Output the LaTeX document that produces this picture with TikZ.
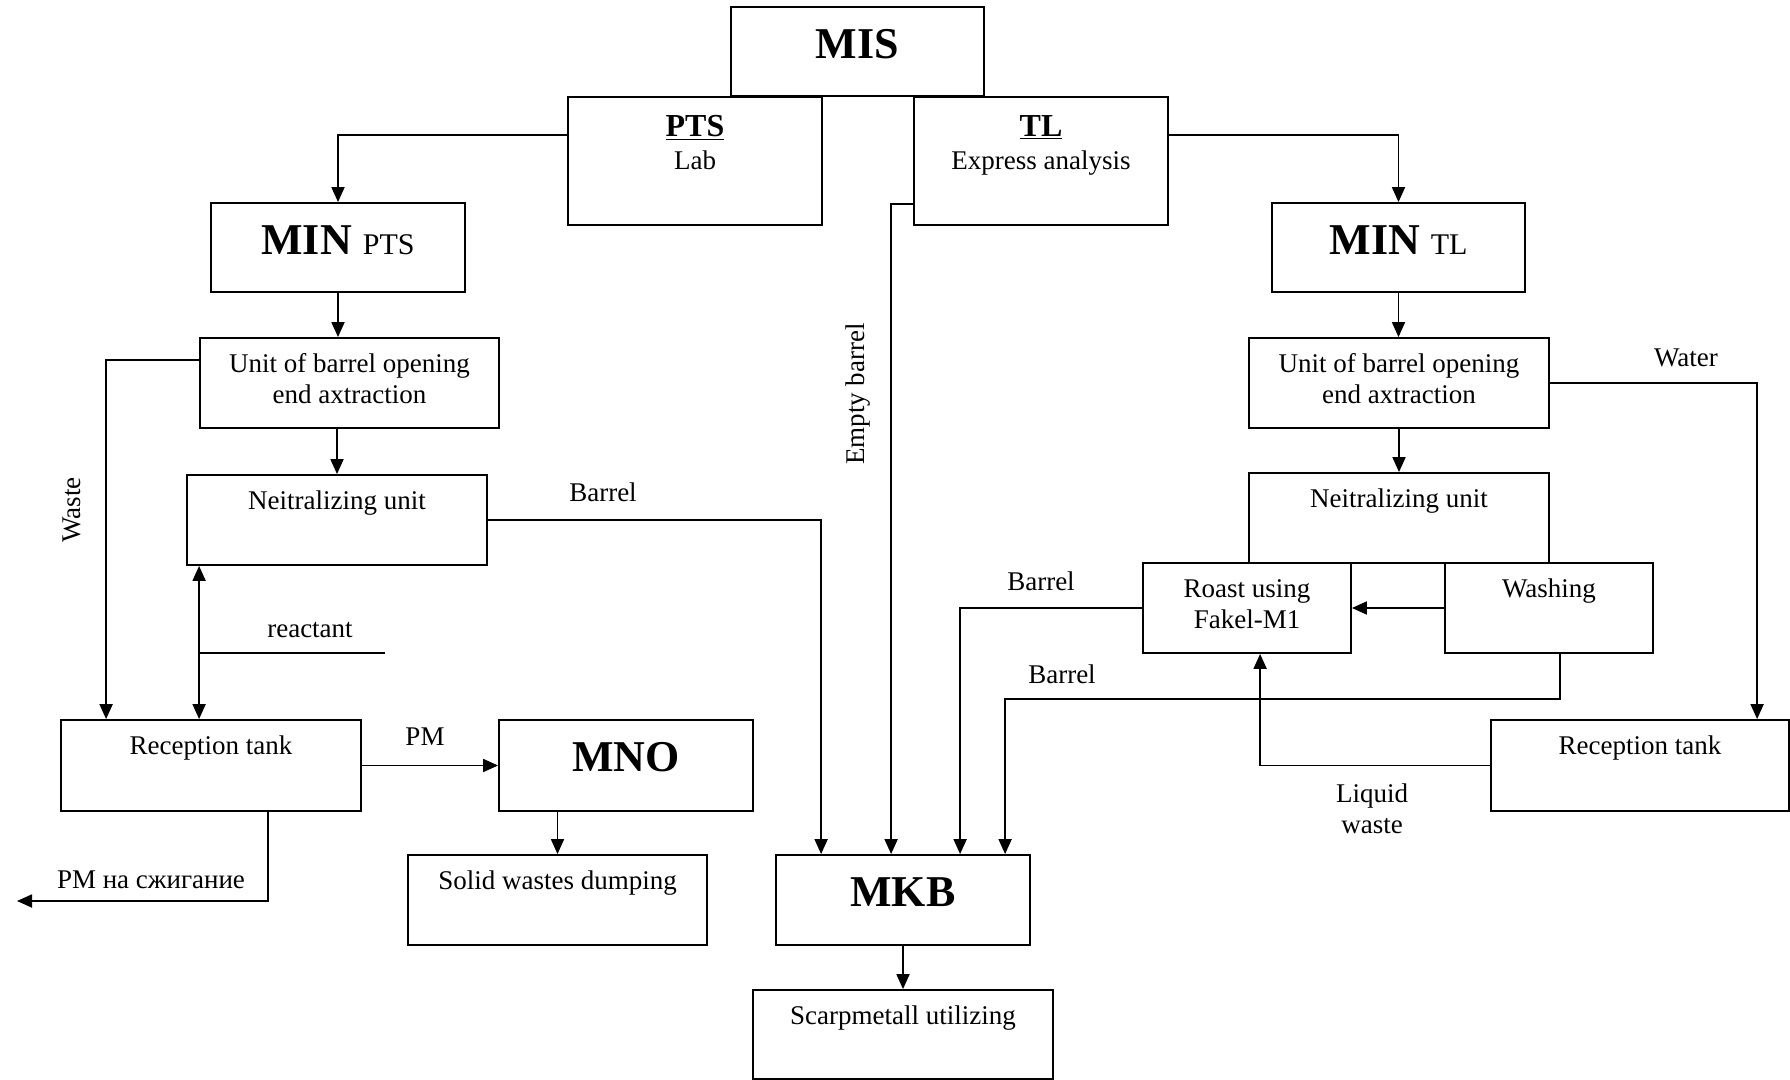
\documentclass[tikz,border=0pt]{standalone}
\usepackage{fontspec}
\setmainfont{Liberation Serif}
\usetikzlibrary{arrows.meta}
\tikzstyle{stage} = [draw, line width=0.9pt, inner sep=0pt]
\tikzstyle{intext} = [anchor=base, yshift=-17.5pt, align=center, inner sep=0pt]
\tikzstyle{twoline} = [yshift=-15.5pt]
\tikzstyle{bigtext} = [anchor=base, yshift=-26pt, inner sep=0pt, font=\fontsize{22}{24}\selectfont\bfseries]
\tikzstyle{flow} = [line width=0.9pt, -{Triangle[length=7.5pt,width=6.5pt]}]
\tikzstyle{both} = [line width=0.9pt, {Triangle[length=7.5pt,width=6.5pt]}-{Triangle[length=7.5pt,width=6.5pt]}]
\tikzstyle{wire} = [line width=0.9pt]
\tikzstyle{tag} = [anchor=base, inner sep=0pt]

\begin{document}
\begin{tikzpicture}[x=0.5pt, y=-0.5pt, every node/.style={font=\fontsize{13.5}{15.5}\selectfont}]
  \useasboundingbox (0,0) rectangle (1790,1080);
  % top
  \node (mis) [stage, minimum width=126.5pt, minimum height=44.5pt, label={[bigtext]90:MIS}] at (857.5,51.5) {};
  \node (pts) [stage, minimum width=127pt, minimum height=64pt, label={[intext, yshift=-19pt]90:{\underline{\bfseries\fontsize{16}{18}\selectfont PTS}\\[1pt]Lab}}] at (695,161) {};
  \node (tl) [stage, minimum width=127pt, minimum height=64pt, label={[intext, yshift=-19pt]90:{\underline{\bfseries\fontsize{16}{18}\selectfont TL}\\[1pt]Express analysis}}] at (1041,161) {};
  % left branch
  \node (minp) [stage, minimum width=127pt, minimum height=44.5pt, label={[bigtext]90:{MIN {\mdseries\fontsize{15}{17}\selectfont PTS}}}] at (338,247.5) {};
  \node (unitl) [stage, minimum width=149.5pt, minimum height=45pt, label={[intext, twoline]90:{Unit of barrel opening\\end axtraction}}] at (349.5,383) {};
  \node (neitl) [stage, minimum width=150pt, minimum height=45pt, label={[intext]90:Neitralizing unit}] at (337,520) {};
  \node (recl) [stage, minimum width=150pt, minimum height=45.5pt, label={[intext]90:Reception tank}] at (211,765.5) {};
  \node (mno) [stage, minimum width=127pt, minimum height=45.5pt, label={[bigtext]90:MNO}] at (626,765.5) {};
  \node (solid) [stage, minimum width=149.5pt, minimum height=45pt, label={[intext]90:Solid wastes dumping}] at (557.5,900) {};
  % middle
  \node (mkb) [stage, minimum width=127pt, minimum height=45pt, label={[bigtext]90:MKB}] at (903,900) {};
  \node (scarp) [stage, minimum width=150pt, minimum height=44.5pt, label={[intext]90:Scarpmetall utilizing}] at (903,1034.5) {};
  % right branch
  \node (mint) [stage, minimum width=126.5pt, minimum height=44.5pt, label={[bigtext]90:{MIN {\mdseries\fontsize{15}{17}\selectfont TL}}}] at (1398.5,247.5) {};
  \node (unitr) [stage, minimum width=150pt, minimum height=45pt, label={[intext, twoline]90:{Unit of barrel opening\\end axtraction}}] at (1399,383) {};
  \node (neitr) [stage, minimum width=150pt, minimum height=45pt, label={[intext]90:Neitralizing unit}] at (1399,518) {};
  \node (roast) [stage, minimum width=104pt, minimum height=45pt, label={[intext, twoline]90:{Roast using\\Fakel-M1}}] at (1247,608) {};
  \node (wash) [stage, minimum width=104pt, minimum height=45pt, label={[intext]90:Washing}] at (1549,608) {};
  \node (recr) [stage, minimum width=149pt, minimum height=45.5pt, label={[intext]90:Reception tank}] at (1640,765.5) {};

  \draw [flow] ([yshift=-19.5pt]pts.north west) -| (minp.north);
  \draw [flow] ([yshift=-19.5pt]tl.north east) -| (mint.north);
  \draw [flow] (minp.south) -- (minp.south |- unitl.north);
  \draw [flow] (neitl.north |- unitl.south) -- (neitl.north);
  \draw [flow] ([yshift=-11.5pt]unitl.north west) -| ([xshift=23pt]recl.north west);
  \draw [both] ([xshift=6.5pt]neitl.south west) coordinate (rv) -- (rv |- recl.north);
  \coordinate (reac) at (385,653);
  \draw [wire] (reac) -- (reac -| rv);
  \draw [flow] (neitl.east) -| ([xshift=23pt]mkb.north west);
  \draw [flow] (recl.east) -- (mno.west);
  \draw [flow] (solid.north |- mno.south) -- (solid.north);
  \coordinate (burn) at (17,901);
  \draw [flow] ([xshift=104pt]recl.south west) |- (burn);
  \draw [flow] ([yshift=11pt]tl.south west) -| ([xshift=58pt]mkb.north west);
  \draw [flow] (mkb.south) -- (scarp.north);
  \draw [flow] (mint.south) -- (mint.south |- unitr.north);
  \draw [flow] (unitr.south) -- (neitr.north);
  \draw [flow] (unitr.east) -| ([xshift=133.5pt]recr.north west);
  \draw [flow] (wash.west) -- (roast.east);
  \draw [flow] (roast.west) -| ([xshift=92.5pt]mkb.north west);
  \draw [flow] ([xshift=58pt]wash.south west) -- ++(0,45) -| ([xshift=115pt]mkb.north west);
  \draw [flow] (recr.west) -| ([xshift=59pt]roast.south west);

  % labels
  \node (wastel) [rotate=90] at (72,510) {Waste};
  \node (reactl) [tag] at (310,638) {reactant};
  \node (barrel1) [tag] at (603,502) {Barrel};
  \node (pml) [tag] at (425,745.5) {PM};
  \node (burnl) [tag] at (151,888) {РМ на сжигание};
  \node (emptyl) [rotate=90] at (858,394) {Empty barrel};
  \node (barrel2) [tag] at (1041,591) {Barrel};
  \node (barrel3) [tag] at (1062,683) {Barrel};
  \node (waterl) [tag] at (1686,366.5) {Water};
  \node (liquidl) [tag, align=center] at (1372,833) {Liquid\\waste};
\end{tikzpicture}
\end{document}
